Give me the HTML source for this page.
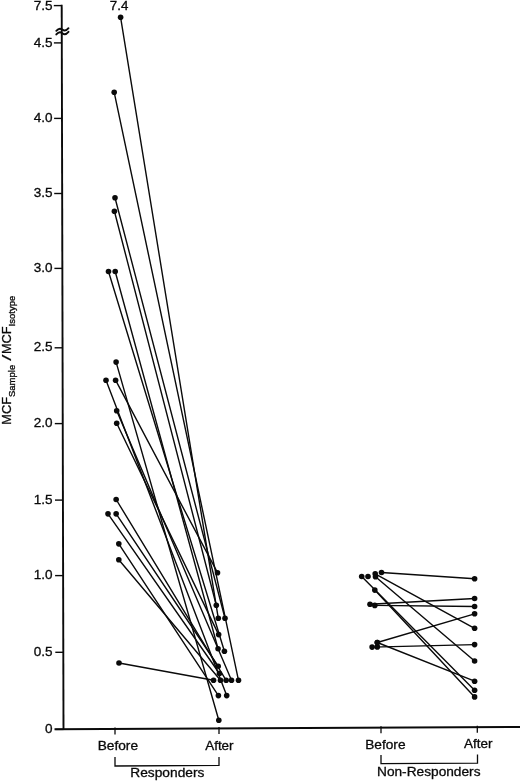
<!DOCTYPE html>
<html><head><meta charset="utf-8"><title>Figure</title>
<style>
html,body{margin:0;padding:0;background:#fff;}
svg{display:block;}
text{font-family:"Liberation Sans",sans-serif;fill:#0a0a0a;}
</style></head><body>
<svg width="520" height="781" viewBox="0 0 520 781">
<rect width="520" height="781" fill="#fff"/>

<g stroke="#0a0a0a" stroke-width="1.9" fill="none" stroke-linecap="butt">
<path d="M61.7 4.8 L63.5 730"/>
<path d="M54.5 729.3 L520 727.0"/>
</g>
<g stroke="#0a0a0a" stroke-width="1.4">
<line x1="53.8" y1="5.6" x2="61.8" y2="5.6"/>
<line x1="53.9" y1="42.9" x2="61.9" y2="42.9"/>
<line x1="54.1" y1="118.4" x2="62.1" y2="118.4"/>
<line x1="54.2" y1="193.5" x2="62.2" y2="193.5"/>
<line x1="54.4" y1="268.4" x2="62.4" y2="268.4"/>
<line x1="54.6" y1="347.8" x2="62.6" y2="347.8"/>
<line x1="54.8" y1="423.6" x2="62.8" y2="423.6"/>
<line x1="55.0" y1="500.1" x2="63.0" y2="500.1"/>
<line x1="55.1" y1="575.6" x2="63.1" y2="575.6"/>
<line x1="55.3" y1="652.3" x2="63.3" y2="652.3"/>
<line x1="55.5" y1="729.4" x2="63.5" y2="729.4"/>
</g>
<g stroke="#0a0a0a" stroke-width="1.9" fill="none" stroke-linecap="round"><path d="M56.3 30.8 q3 -3.6 6 -1.2 t6.2 -1.4"/><path d="M56.3 34.4 q3 -3.6 6 -1.2 t6.2 -1.4"/></g>
<g stroke="#0a0a0a" stroke-width="0.3">
<text transform="translate(52.5 9.8) scale(1.06 1)" font-size="12.8" text-anchor="end">7.5</text>
<text transform="translate(52.5 46.5) scale(1.06 1)" font-size="12.8" text-anchor="end">4.5</text>
<text transform="translate(52.5 122.0) scale(1.06 1)" font-size="12.8" text-anchor="end">4.0</text>
<text transform="translate(52.5 197.1) scale(1.06 1)" font-size="12.8" text-anchor="end">3.5</text>
<text transform="translate(52.5 272.0) scale(1.06 1)" font-size="12.8" text-anchor="end">3.0</text>
<text transform="translate(52.5 351.4) scale(1.06 1)" font-size="12.8" text-anchor="end">2.5</text>
<text transform="translate(52.5 427.2) scale(1.06 1)" font-size="12.8" text-anchor="end">2.0</text>
<text transform="translate(52.5 503.7) scale(1.06 1)" font-size="12.8" text-anchor="end">1.5</text>
<text transform="translate(52.5 579.2) scale(1.06 1)" font-size="12.8" text-anchor="end">1.0</text>
<text transform="translate(52.5 655.9) scale(1.06 1)" font-size="12.8" text-anchor="end">0.5</text>
<text transform="translate(52.5 733.0) scale(1.06 1)" font-size="12.8" text-anchor="end">0</text>
</g>
<g stroke="#0a0a0a" stroke-width="1.3" fill="none">
<line x1="115" y1="727.5" x2="115" y2="734.5"/>
<line x1="219" y1="727.0" x2="219" y2="734.0"/>
<line x1="381" y1="726.2" x2="381" y2="733.2"/>
<line x1="477.3" y1="725.7" x2="477.3" y2="732.7"/>
<path d="M115 757 V766 L219 765.4 V757"/>
<path d="M381 755 V763.6 L477.5 763.2 V754.5"/>
</g>
<g stroke="#0a0a0a" stroke-width="0.3">
<text transform="translate(97.7 750.3) scale(1.07 1)" font-size="12.8" text-anchor="start">Before</text>
<text transform="translate(205.2 749.8) scale(1.05 1)" font-size="12.8" text-anchor="start">After</text>
<text transform="translate(130.3 777.2) scale(1.075 1)" font-size="12.8" text-anchor="start">Responders</text>
<text transform="translate(365.2 748.8) scale(1.07 1)" font-size="12.8" text-anchor="start">Before</text>
<text transform="translate(464.0 748.3) scale(1.05 1)" font-size="12.8" text-anchor="start">After</text>
<text transform="translate(377.0 776.0) scale(1.07 1)" font-size="12.8" text-anchor="start">Non-Responders</text>
</g>
<g stroke="#0a0a0a" stroke-width="0.3"><text transform="translate(109.8 9.8) scale(1.09 1)" font-size="12.2" text-anchor="start">7.4</text></g>
<g transform="translate(11.4 424.7) rotate(-90) scale(1 1.04)" font-size="12.8" stroke="#0a0a0a" stroke-width="0.3"><text x="0" y="0">MCF<tspan font-size="9.5" dy="3.5">Sample</tspan></text><text transform="translate(63.6 0) scale(1.8 1)" stroke-width="0.12">/</text><text x="70.6" y="0">MCF<tspan font-size="9.5" dy="3.5">Isotype</tspan></text></g>
<g stroke="#0a0a0a" stroke-width="1.4" stroke-linecap="round">
<line x1="120.6" y1="17.3" x2="218.3" y2="618.3"/>
<line x1="114.2" y1="92.3" x2="238.5" y2="680.3"/>
<line x1="115" y1="197.7" x2="225" y2="618.3"/>
<line x1="114.4" y1="211.2" x2="216.3" y2="605.3"/>
<line x1="108.5" y1="271.5" x2="224.4" y2="651.3"/>
<line x1="115.2" y1="271.5" x2="218.05" y2="648.75"/>
<line x1="116.1" y1="362.1" x2="218.8" y2="720.3"/>
<line x1="106" y1="380.2" x2="226.7" y2="695.6"/>
<line x1="115.6" y1="380.2" x2="217.5" y2="572.7"/>
<line x1="116.7" y1="410.8" x2="231.5" y2="680.3"/>
<line x1="116.7" y1="423.2" x2="218.65" y2="634.6"/>
<line x1="116.15" y1="499.5" x2="226.15" y2="680.3"/>
<line x1="108" y1="513.85" x2="219.45" y2="673.5"/>
<line x1="116.15" y1="513.85" x2="218.2" y2="666.25"/>
<line x1="118.8" y1="543.85" x2="218.4" y2="695.6"/>
<line x1="118.8" y1="559.7" x2="220.5" y2="680.3"/>
<line x1="119" y1="663" x2="213.55" y2="680.3"/>
<line x1="381.5" y1="572.5" x2="474.6" y2="578.7"/>
<line x1="370" y1="604.2" x2="474.6" y2="598.5"/>
<line x1="374.8" y1="605.4" x2="474.6" y2="606.5"/>
<line x1="377.3" y1="642.5" x2="474.6" y2="613.8"/>
<line x1="375.2" y1="573.8" x2="474.6" y2="628.3"/>
<line x1="372.1" y1="647.1" x2="474.6" y2="644.6"/>
<line x1="375.5" y1="576.8" x2="474.6" y2="661"/>
<line x1="377.3" y1="642.5" x2="474.6" y2="681.2"/>
<line x1="361.7" y1="576.5" x2="474.6" y2="690.2"/>
<line x1="374.8" y1="590.1" x2="474.6" y2="696.9"/>
</g>
<g fill="#0a0a0a">
<circle cx="120.6" cy="17.3" r="2.8"/>
<circle cx="114.2" cy="92.3" r="2.8"/>
<circle cx="115" cy="197.7" r="2.8"/>
<circle cx="114.4" cy="211.2" r="2.8"/>
<circle cx="108.5" cy="271.5" r="2.8"/>
<circle cx="115.2" cy="271.5" r="2.8"/>
<circle cx="116.1" cy="362.1" r="2.8"/>
<circle cx="106" cy="380.2" r="2.8"/>
<circle cx="115.6" cy="380.2" r="2.8"/>
<circle cx="116.7" cy="410.8" r="2.8"/>
<circle cx="116.7" cy="423.2" r="2.8"/>
<circle cx="116.15" cy="499.5" r="2.8"/>
<circle cx="108" cy="513.85" r="2.8"/>
<circle cx="116.15" cy="513.85" r="2.8"/>
<circle cx="118.8" cy="543.85" r="2.8"/>
<circle cx="118.8" cy="559.7" r="2.8"/>
<circle cx="119" cy="663" r="2.8"/>
<circle cx="218.3" cy="618.3" r="2.8"/>
<circle cx="238.5" cy="680.3" r="2.8"/>
<circle cx="225" cy="618.3" r="2.8"/>
<circle cx="216.3" cy="605.3" r="2.8"/>
<circle cx="224.4" cy="651.3" r="2.8"/>
<circle cx="218.05" cy="648.75" r="2.8"/>
<circle cx="218.8" cy="720.3" r="2.8"/>
<circle cx="226.7" cy="695.6" r="2.8"/>
<circle cx="217.5" cy="572.7" r="2.8"/>
<circle cx="231.5" cy="680.3" r="2.8"/>
<circle cx="218.65" cy="634.6" r="2.8"/>
<circle cx="226.15" cy="680.3" r="2.8"/>
<circle cx="219.45" cy="673.5" r="2.8"/>
<circle cx="218.2" cy="666.25" r="2.8"/>
<circle cx="218.4" cy="695.6" r="2.8"/>
<circle cx="220.5" cy="680.3" r="2.8"/>
<circle cx="213.55" cy="680.3" r="2.8"/>
<circle cx="381.5" cy="572.5" r="2.8"/>
<circle cx="474.6" cy="578.7" r="2.8"/>
<circle cx="370" cy="604.2" r="2.8"/>
<circle cx="474.6" cy="598.5" r="2.8"/>
<circle cx="374.8" cy="605.4" r="2.8"/>
<circle cx="474.6" cy="606.5" r="2.8"/>
<circle cx="377.3" cy="642.5" r="2.8"/>
<circle cx="474.6" cy="613.8" r="2.8"/>
<circle cx="375.2" cy="573.8" r="2.8"/>
<circle cx="474.6" cy="628.3" r="2.8"/>
<circle cx="372.1" cy="647.1" r="2.8"/>
<circle cx="474.6" cy="644.6" r="2.8"/>
<circle cx="375.5" cy="576.8" r="2.8"/>
<circle cx="474.6" cy="661" r="2.8"/>
<circle cx="377.3" cy="642.5" r="2.8"/>
<circle cx="474.6" cy="681.2" r="2.8"/>
<circle cx="361.7" cy="576.5" r="2.8"/>
<circle cx="474.6" cy="690.2" r="2.8"/>
<circle cx="374.8" cy="590.1" r="2.8"/>
<circle cx="474.6" cy="696.9" r="2.8"/>
<circle cx="368" cy="576.5" r="2.8"/>
<circle cx="377.3" cy="646.9" r="2.8"/>
</g>
</svg></body></html>
